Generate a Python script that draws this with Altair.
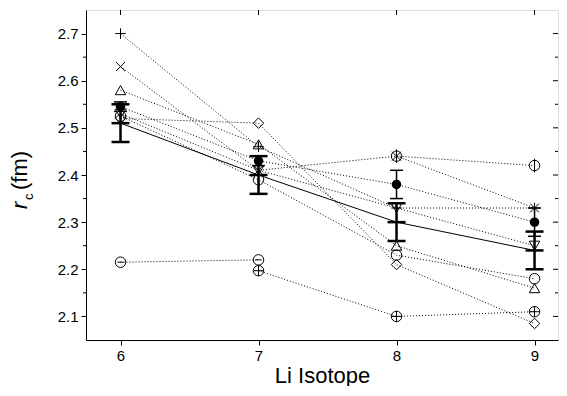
import altair as alt
import pandas as pd

# ---------------- data ----------------
isotopes = [6, 7, 8, 9]
plus_y = [2.70, 2.46, 2.33, 2.33]
cross_y = [2.63, 2.41, 2.44, 2.33]
tri_up_y = [2.58, 2.465, 2.25, 2.16]
tri_down_y = [2.53, 2.41, 2.33, 2.25]
circle_y = [2.525, 2.39, 2.23, 2.18]
diamond_y = [2.52, 2.51, 2.21, 2.085]
filled_y = [2.545, 2.43, 2.38, 2.30]
filled_err = [0.01, 0.01, 0.03, 0.03]
theta_x = [6, 7]
theta_y = [2.215, 2.22]
oplus_x = [7, 8, 9]
oplus_y = [2.197, 2.10, 2.11]
phi_x = [8, 9]
phi_y = [2.44, 2.42]
mean_y = [2.51, 2.40, 2.30, 2.24]
mean_err = [0.04, 0.04, 0.04, 0.04]

x_ticks = [6, 7, 8, 9]
y_major = [2.1, 2.2, 2.3, 2.4, 2.5, 2.6, 2.7]
y_minor = [2.15, 2.25, 2.35, 2.45, 2.55, 2.65]

# ---------------- tables ----------------
rows = []
def add(name, xs, ys):
    for a, b in zip(xs, ys):
        rows.append({"series": name, "iso": a, "val": b})

add("plus", isotopes, plus_y)
add("cross", isotopes, cross_y)
add("tri_up", isotopes, tri_up_y)
add("tri_down", isotopes, tri_down_y)
add("circle", isotopes, circle_y)
add("diamond", isotopes, diamond_y)
add("filled", isotopes, filled_y)
add("theta", theta_x, theta_y)
add("oplus", oplus_x, oplus_y)
add("phi", phi_x, phi_y)
df = pd.DataFrame(rows)

mean_df = pd.DataFrame({"iso": isotopes, "val": mean_y})
err_rows = []
caps = []
for a, m, e in zip(isotopes, mean_y, mean_err):
    err_rows.append({"iso": a, "lo": m - e, "hi": m + e, "kind": "mean"})
    caps += [{"iso": a, "val": m - e, "kind": "mean"},
             {"iso": a, "val": m + e, "kind": "mean"},
             {"iso": a, "val": m, "kind": "mean"}]
for a, m, e in zip(isotopes, filled_y, filled_err):
    err_rows.append({"iso": a, "lo": m - e, "hi": m + e, "kind": "filled"})
    caps += [{"iso": a, "val": m - e, "kind": "filled"},
             {"iso": a, "val": m + e, "kind": "filled"}]
err_df = pd.DataFrame(err_rows)
cap_df = pd.DataFrame(caps)

shape_domain = ["plus", "cross", "tri_up", "tri_down", "circle", "diamond",
                "theta", "oplus", "phi"]
circ = "M-1,0A1,1,0,1,1,1,0A1,1,0,1,1,-1,0Z"
shape_range = [
    "M-1,0L1,0M0,-1L0,1",
    "M-0.85,-0.85L0.85,0.85M-0.85,0.85L0.85,-0.85",
    "triangle-up",
    "triangle-down",
    "circle",
    "diamond",
    circ + "M-0.6,0L0.6,0",
    circ + "M-1,0L1,0M0,-1L0,1",
    circ + "M0,-1.3L0,1.3",
]

W, H = 472, 330
FONT = "Liberation Sans"

xaxis = alt.Axis(values=x_ticks, format="d", title="Li Isotope", grid=False,
                 tickSize=5, tickColor="black", domainColor="black",
                 labelFontSize=15, labelFont=FONT, labelColor="black",
                 labelPadding=3, titleFont=FONT, titleFontSize=22,
                 titleFontWeight="normal", titleColor="black", titlePadding=2)
yaxis = alt.Axis(values=y_major, format=".1f", title=None, grid=False,
                 tickSize=5, tickColor="black", domainColor="black",
                 labelFontSize=15, labelFont=FONT, labelColor="black",
                 labelPadding=3)
xs = alt.Scale(domain=[5.75, 9.17], nice=False, zero=False)
ys = alt.Scale(domain=[2.05, 2.75], nice=False, zero=False)
X = alt.X("iso:Q", scale=xs, axis=xaxis)
Y = alt.Y("val:Q", scale=ys, axis=yaxis)

lines = alt.Chart(df).mark_line(color="black", strokeWidth=1,
                                strokeDash=[1, 2]).encode(
    x=X, y=Y, detail="series:N")

mean_line = alt.Chart(mean_df).mark_line(color="black", strokeWidth=1).encode(x=X, y=Y)

open_pts = alt.Chart(df).transform_filter(
    alt.datum.series != "filled").mark_point(
    filled=False, color="black", strokeWidth=1, size=110, opacity=1).encode(
    x=X, y=Y,
    shape=alt.Shape("series:N", scale=alt.Scale(domain=shape_domain, range=shape_range),
                    legend=None))

filled_pts = alt.Chart(df).transform_filter(
    alt.datum.series == "filled").mark_point(
    filled=True, shape="circle", color="black", size=90, opacity=1).encode(x=X, y=Y)

err_mean = alt.Chart(err_df).transform_filter(alt.datum.kind == "mean").mark_rule(
    color="black", strokeWidth=2.5).encode(
    x=X, y=alt.Y("lo:Q", scale=ys, axis=yaxis), y2="hi:Q")
err_filled = alt.Chart(err_df).transform_filter(alt.datum.kind == "filled").mark_rule(
    color="black", strokeWidth=1.5).encode(
    x=X, y=alt.Y("lo:Q", scale=ys, axis=yaxis), y2="hi:Q")

cap_mean = alt.Chart(cap_df).transform_filter(alt.datum.kind == "mean").mark_tick(
    color="black", orient="horizontal", size=18, thickness=2.5, opacity=1).encode(x=X, y=Y)
cap_filled = alt.Chart(cap_df).transform_filter(alt.datum.kind == "filled").mark_tick(
    color="black", orient="horizontal", size=13, thickness=1.5, opacity=1).encode(x=X, y=Y)

# mirrored ticks on top and right, minor ticks on the left
top_ticks = alt.Chart(pd.DataFrame({"iso": x_ticks})).mark_rule(
    color="black", strokeWidth=1).encode(x=X, y=alt.value(0), y2=alt.value(5))
right_major = alt.Chart(pd.DataFrame({"val": y_major})).mark_rule(
    color="black", strokeWidth=1).encode(y=Y, x=alt.value(W - 5), x2=alt.value(W))
right_minor = alt.Chart(pd.DataFrame({"val": y_minor})).mark_rule(
    color="black", strokeWidth=1).encode(y=Y, x=alt.value(W - 3), x2=alt.value(W))
left_minor = alt.Chart(pd.DataFrame({"val": y_minor})).mark_rule(
    color="black", strokeWidth=1).encode(y=Y, x=alt.value(-3), x2=alt.value(0))

# y-axis title: italic r, subscript c, (fm)
def label(txt, x, y, size, style="normal"):
    return alt.Chart(pd.DataFrame({"t": [txt]})).mark_text(
        angle=270, align="left", baseline="alphabetic", font=FONT,
        fontSize=size, fontStyle=style, color="black").encode(
        text="t:N", x=alt.value(x), y=alt.value(y))

t_r = label("r", -59, 199, 22, "italic")
t_c = label("c", -53, 190, 13)
t_fm = label("(fm)", -59, 180, 22)

chart = alt.layer(
    lines, mean_line, err_mean, err_filled, cap_mean, cap_filled,
    open_pts, filled_pts, top_ticks, right_major, right_minor, left_minor,
    t_r, t_c, t_fm
).properties(
    width=W, height=H,
    autosize=alt.AutoSizeParams(type="none"),
    padding={"left": 78, "top": 2, "right": 1, "bottom": 46},
).configure_view(stroke="black", strokeWidth=1).configure(background="white")

chart.save("out.html", embed_options={"renderer": "svg", "actions": False})
